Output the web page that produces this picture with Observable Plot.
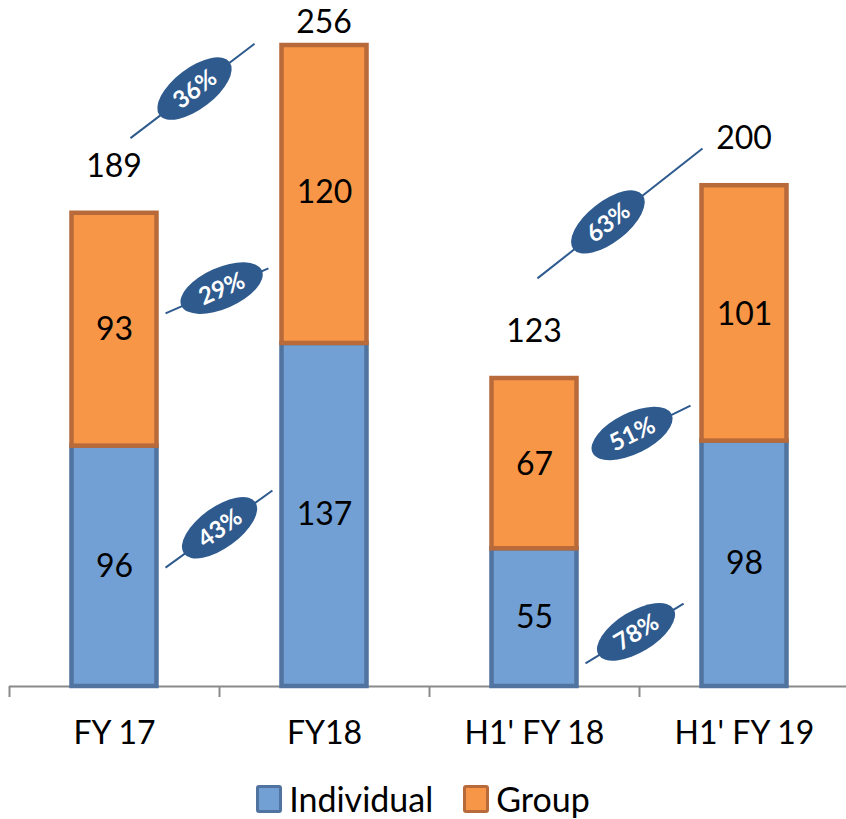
<!DOCTYPE html>
<html>
<head>
<meta charset="utf-8">
<script src="https://cdn.jsdelivr.net/npm/d3@7"></script>
<script src="https://cdn.jsdelivr.net/npm/@observablehq/plot@0.6"></script>
<style>
  html, body { margin: 0; padding: 0; background: #fff; }
  #chart { width: 846px; }
  .legend { display: flex; justify-content: center; align-items: center; height: 58px; font-family: Lato, "Open Sans", sans-serif; font-size: 34px; line-height: 1; color: #000; }
  .legend .item { display: flex; align-items: center; margin: 0 15px; }
  .legend .sw { width: 20px; height: 22px; border-radius: 3px; margin-right: 7px; border: 3.5px solid; }
</style>
</head>
<body>
<div id="chart"></div>
<script>
const categories = ["FY 17", "FY18", "H1' FY 18", "H1' FY 19"];
const individual = [96, 137, 55, 98];
const group = [93, 120, 67, 101];
const totals = [189, 256, 123, 200];
const growthLabels = ["36%", "29%", "43%", "63%", "51%", "78%"];
const seriesNames = ["Individual", "Group"];

// Colours
const blueFill = "#72A0D4", blueStroke = "#50739F";
const orangeFill = "#F79646", orangeStroke = "#B86A3A";
const badge = "#2E5A8E";

// Table built from the arrays
const rows = categories.map((c, i) => ({
  i, c,
  ind: individual[i], grp: group[i], total: totals[i]
}));

// Annotation layout (data coordinates of connector lines, position of badge along line)
const growthLayout = [
  {x1: 0.076, y1: 219, x2: 0.667, y2: 256.7, t: 0.52},
  {x1: 0.243, y1: 149, x2: 0.733, y2: 167, t: 0.55},
  {x1: 0.243, y1: 47.5, x2: 0.752, y2: 78.3, t: 0.51},
  {x1: 2.014, y1: 163, x2: 2.8, y2: 214.9, t: 0.43},
  {x1: 2.305, y1: 94.2, x2: 2.743, y2: 112.2, t: 0.37},
  {x1: 2.243, y1: 9.2, x2: 2.71, y2: 33.1, t: 0.52}
];
const growth = growthLabels.map((label, k) => ({label, ...growthLayout[k]}));

const half = 0.2024;
const font = "Lato, 'Open Sans', sans-serif";
const fs = 32;

const totalLabels = (index, scales) => {
  const g = d3.create("svg:g").attr("font-family", font).attr("font-size", fs).attr("text-anchor", "middle");
  rows.forEach(d => {
    const py = Math.max(scales.y(d.total) - 47, 22);
    g.append("text").attr("x", scales.x(d.i)).attr("y", py).attr("dy", "0.35em").attr("fill", "#000").text(d.total);
  });
  return g.node();
};

const badges = (index, scales) => {
  const g = d3.create("svg:g");
  growth.forEach(d => {
    const ax = scales.x(d.x1), ay = scales.y(d.y1), bx = scales.x(d.x2), by = scales.y(d.y2);
    const cx = ax + (bx - ax) * d.t, cy = ay + (by - ay) * d.t;
    const ang = Math.atan2(by - ay, bx - ax) * 180 / Math.PI;
    const gg = g.append("g").attr("transform", `translate(${cx},${cy}) rotate(${ang})`);
    gg.append("ellipse").attr("rx", 44).attr("ry", 20.5).attr("fill", badge);
    gg.append("text").attr("text-anchor", "middle").attr("dy", "0.36em")
      .attr("font-family", font).attr("font-weight", "bold").attr("font-size", 24)
      .attr("fill", "#fff").text(d.label);
  });
  return g.node();
};

const chart = Plot.plot({
  width: 846,
  height: 770,
  marginLeft: 9,
  marginRight: -3,
  marginTop: 45,
  marginBottom: 84,
  x: {domain: [-0.5, 3.5]},
  y: {domain: [0, 256], axis: null},
  style: {fontFamily: font, background: "#fff", overflow: "visible"},
  marks: [
    Plot.ruleY([0], {stroke: "#8A8A8A", strokeWidth: 2}),
    Plot.axisX({ticks: [-0.5, 0.5, 1.5, 2.5, 3.5], tickSize: 11, tickFormat: () => "", stroke: "#8A8A8A", strokeWidth: 2, label: null}),
    Plot.rectY(rows, {x1: d => d.i - half, x2: d => d.i + half, y1: 0, y2: "ind", fill: blueFill, stroke: blueStroke, strokeWidth: 4.5}),
    Plot.rectY(rows, {x1: d => d.i - half, x2: d => d.i + half, y1: "ind", y2: "total", fill: orangeFill, stroke: orangeStroke, strokeWidth: 4.5}),
    Plot.text(rows, {x: "i", y: d => d.ind / 2, text: d => String(d.ind), fontSize: fs, fill: "#000"}),
    Plot.text(rows, {x: "i", y: d => d.ind + d.grp / 2, text: d => String(d.grp), fontSize: fs, fill: "#000"}),
    Plot.text(rows, {x: "i", y: 0, dy: 47, text: "c", fontSize: fs, fill: "#000"}),
    totalLabels,
    Plot.link(growth, {x1: "x1", y1: "y1", x2: "x2", y2: "y2", stroke: badge, strokeWidth: 2}),
    badges
  ]
});
document.getElementById("chart").appendChild(chart);

const legend = d3.select("body").append("div").attr("class", "legend");
[[seriesNames[0], blueFill, blueStroke], [seriesNames[1], orangeFill, orangeStroke]].forEach(([name, f, s]) => {
  const it = legend.append("div").attr("class", "item");
  it.append("div").attr("class", "sw").style("background", f).style("border-color", s);
  it.append("span").text(name);
});
</script>
</body>
</html>
